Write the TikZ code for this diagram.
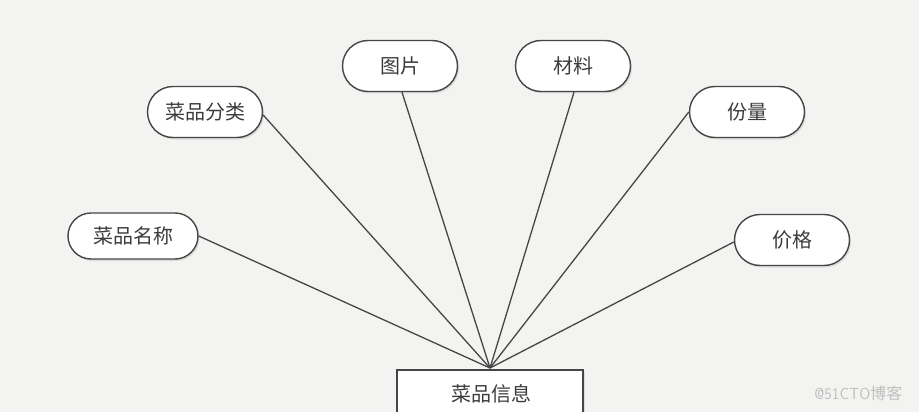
\documentclass[tikz,border=0pt]{standalone}
\usepackage{fontspec}
\newfontfamily\cjk{Noto Sans CJK SC}
\usetikzlibrary{shapes.misc,shadows}
\definecolor{bg}{RGB}{243,243,241}
\definecolor{edge}{RGB}{70,70,70}
\definecolor{txt}{RGB}{60,60,60}
\tikzset{
  attr/.style={rounded rectangle, draw=edge, line width=1.4pt, fill=white!98!bg,
    minimum width=115pt, minimum height=51pt, inner sep=0pt,
    font=\cjk\fontsize{20}{20}\selectfont, text=txt,
    drop shadow={shadow xshift=1.5pt, shadow yshift=-2pt, opacity=0.2}},
  link/.style={draw=edge, line width=1.3pt},
  ent/.style={draw=edge, line width=1.4pt, fill=white!98!bg,
    drop shadow={shadow xshift=1.5pt, shadow yshift=-2pt, opacity=0.2}}
}
\begin{document}
\begin{tikzpicture}[x=1pt,y=-1pt]
\useasboundingbox (0,0) rectangle (919,412);
\fill[bg] (0,0) rectangle (919,412);
\clip (0,0) rectangle (919,412);
\coordinate (hub) at (490,368);
\node[attr, minimum width=130pt, minimum height=46pt] (mc) at (133,236) {菜品名称};
\node[attr] (fl) at (205,112) {菜品分类};
\node[attr] (tp) at (400,66) {图片};
\node[attr] (cl) at (573,66) {材料};
\node[attr] (fliang) at (747,112) {份量};
\node[attr] (jg) at (792,240) {价格};
\draw[link] (mc.east) -- (hub);
\draw[link] ([yshift=-3pt]fl.east) -- (hub);
\draw[link] ([xshift=2pt]tp.south) -- (hub);
\draw[link] ([xshift=1pt]cl.south) -- (hub);
\draw[link] (fliang.west) -- (hub);
\draw[link] ([yshift=-2pt]jg.west) -- (hub);
\path[ent] (397,370) rectangle (583,440);
\node[font=\cjk\fontsize{20}{20}\selectfont, text=txt] (xx) at (491,394) {菜品信息};
\node[font=\sffamily\fontsize{16}{16}\selectfont, text=black!25, anchor=east] (wm) at (906,393) {@51CTO{\cjk 博客}};
\end{tikzpicture}
\end{document}
